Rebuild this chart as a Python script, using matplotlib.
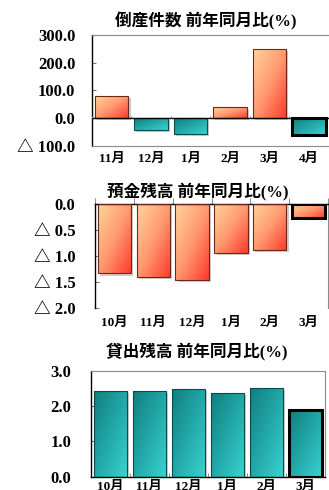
import numpy as np
import matplotlib
matplotlib.use("Agg")
import matplotlib.pyplot as plt
from matplotlib.colors import LinearSegmentedColormap
import matplotlib.patheffects as pe

plt.rcParams['font.family'] = ['Liberation Serif', 'Noto Sans CJK JP', 'DejaVu Sans']
plt.rcParams['font.weight'] = 'bold'

# ---- data ----
titles = ["倒産件数 前年同月比(%)", "預金残高 前年同月比(%)", "貸出残高 前年同月比(%)"]

months1 = ["11月", "12月", "1月", "2月", "3月", "4月"]
values1 = [80, -41, -56, 39, 251, -61]
yticks1 = [-100, 0, 100, 200, 300]

months2 = ["10月", "11月", "12月", "1月", "2月", "3月"]
values2 = [-1.33, -1.39, -1.45, -0.94, -0.87, -0.27]
yticks2 = [0.0, -0.5, -1.0, -1.5, -2.0]

months3 = ["10月", "11月", "12月", "1月", "2月", "3月"]
values3 = [2.42, 2.43, 2.48, 2.37, 2.51, 1.88]
yticks3 = [0.0, 1.0, 2.0, 3.0]

orange_cmap = LinearSegmentedColormap.from_list("o", ["#FFD49C", "#FF9A70", "#FF3B2B"])
teal_cmap = LinearSegmentedColormap.from_list("t", ["#117F7F", "#22A8A8", "#3AD3D0"])
ORANGE_EDGE = '#6a2a1a'
TEAL_EDGE = '#0b4a4a'

W, H = 329, 490
fig = plt.figure(figsize=(W / 100, H / 100), dpi=100)


def fmt(v):
    if v < 0:
        return "△ %.1f" % abs(v)
    return "%.1f" % v


def add_axes(left, right, top, bottom):
    return fig.add_axes([left / W, (H - bottom) / H, (right - left) / W, (bottom - top) / H])


grad = np.add.outer(np.linspace(0, 1, 60), np.linspace(0, 1, 60)) / 2.0


def draw_bars(ax, months, values, cmaps, edges, ylim):
    x = np.arange(len(months))
    # shadow / clip bars (below)
    base = ax.bar(x, values, width=0.85, facecolor='#ffffff', edgecolor='none', zorder=1)
    for b in base:
        b.set_path_effects([pe.SimplePatchShadow(offset=(1.5, -1.5), shadow_rgbFace='#aaaaaa', alpha=0.6), pe.Normal()])
    for i, b in enumerate(base):
        x0, y0, w, h = b.get_x(), b.get_y(), b.get_width(), b.get_height()
        ytop = max(y0, y0 + h)
        ybot = min(y0, y0 + h)
        im = ax.imshow(grad, cmap=cmaps[i], extent=(x0, x0 + w, ybot, ytop), origin='upper',
                       aspect='auto', zorder=2, interpolation='bilinear')
        im.set_clip_path(b)
    outline = ax.bar(x, values, width=0.85, facecolor='none', edgecolor=edges, linewidth=0.8, zorder=3)
    outline[-1].set_edgecolor('black')
    outline[-1].set_linewidth(2.2)
    ax.set_xlim(-0.5, len(months) - 0.5)
    ax.set_ylim(*ylim)
    ax.set_xticks(x)
    ax.set_xticklabels(months, fontsize=9.5, fontweight='bold')
    ax.tick_params(axis='x', length=0)
    ax.tick_params(axis='y', length=3, direction='in', color='#777777', labelsize=12, pad=12)
    for s in ax.spines.values():
        s.set_color('#8a8a8a')
        s.set_linewidth(0.8)
    ax.spines['left'].set_color('black')
    ax.spines['left'].set_linewidth(1.0)


# Panel 1
ax1 = add_axes(92, 328.6, 35, 146)
cm1 = [orange_cmap if v >= 0 else teal_cmap for v in values1]
ed1 = [ORANGE_EDGE if v >= 0 else TEAL_EDGE for v in values1]
draw_bars(ax1, months1, values1, cm1, ed1, (-100, 300))
ax1.set_yticks(yticks1)
ax1.set_yticklabels([fmt(v) for v in yticks1])
ax1.axhline(0, color='black', linewidth=1.0, zorder=4)
ax1.vlines(np.arange(len(months1) + 1) - 0.5, 0, 8, color='#777777', linewidth=0.8, zorder=4)
ax1.tick_params(axis='x', pad=5)
ax1.spines['right'].set_visible(False)

# Panel 2
ax2 = add_axes(94.7, 328.3, 204.3, 308.3)
draw_bars(ax2, months2, values2, [orange_cmap] * len(values2), ORANGE_EDGE, (-2.0, 0.0))
ax2.set_yticks(yticks2)
ax2.set_yticklabels([fmt(v) for v in yticks2])
ax2.spines['top'].set_color('black')
ax2.spines['top'].set_linewidth(1.0)
ax2.spines['bottom'].set_visible(False)
ax2.set_xticks(np.arange(len(months2) + 1) - 0.5, minor=True)
ax2.tick_params(axis='x', which='minor', top=True, bottom=False, direction='out', length=4, color='#777777')
ax2.tick_params(axis='x', pad=6)
ax2.tick_params(axis='y', pad=14)

# Panel 3
ax3 = add_axes(90.7, 325, 370.7, 476.7)
draw_bars(ax3, months3, values3, [teal_cmap] * len(values3), TEAL_EDGE, (0.0, 3.0))
ax3.set_yticks(yticks3)
ax3.set_yticklabels([fmt(v) for v in yticks3])
ax3.spines['bottom'].set_color('black')
ax3.spines['bottom'].set_linewidth(1.0)
ax3.set_xticks(np.arange(len(months3) + 1) - 0.5, minor=True)
ax3.tick_params(axis='x', which='minor', direction='in', length=3, color='#777777')
ax3.tick_params(axis='x', pad=3)
ax3.tick_params(axis='y', pad=14)

# Titles
fig.text(206 / W, 1 - 21 / H, titles[0], ha='center', va='center', fontsize=12, fontweight='bold')
fig.text(197.5 / W, 1 - 191.5 / H, titles[1], ha='center', va='center', fontsize=12, fontweight='bold')
fig.text(196.7 / W, 1 - 351.5 / H, titles[2], ha='center', va='center', fontsize=12, fontweight='bold')

fig.savefig("out.png", dpi=100, facecolor='white')
